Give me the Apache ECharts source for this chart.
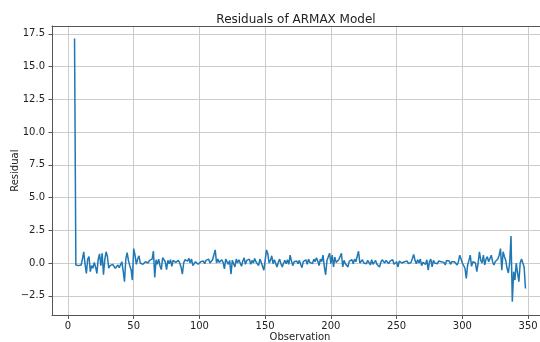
<!DOCTYPE html>
<html>
<head>
<meta charset="utf-8">
<script src="https://cdn.jsdelivr.net/npm/echarts@6/dist/echarts.min.js"></script>
<style>
html,body{margin:0;padding:0;background:#fff;}
#chart{width:540px;height:342px;}
</style>
</head>
<body>
<div id="chart"></div>
<script>
const chartTitle = 'Residuals of ARMAX Model';
const xName = 'Observation';
const yName = 'Residual';
const firstObservation = 5;
const residuals = [
  17.15, -0.15, -0.1, -0.2, -0.05, -0.15, 0.3, 0.86, -0.1, -0.79,
  0.3, 0.5, -0.66, -0.2, -0.4, 0.05, -0.3, -0.8, 0.3, 0.7,
  -0.2, 0.75, -0.9, 0.25, 0.86, 0.5, -0.4, -0.2, -0.35, -0.1,
  -0.25, -0.4, -0.3, -0.15, -0.35, -0.2, 0.1, -0.6, -1.43, 0.3,
  0.8, 0.2, -0.2, -0.5, -1.3, 1.1, 0.6, -0.1, 0.3, 0.55,
  0.0, 0.1, -0.1, 0.05, 0.1, -0.05, 0.0, 0.2, 0.1, 0.3,
  0.9, -1.1, 0.25, -0.1, 0.3, -0.2, -0.5, 0.4, 0.55, 0.1,
  -0.5, 0.2, -0.05, 0.25, -0.25, 0.2, 0.3, 0.05, 0.1, 0.2,
  0.0, -0.3, -0.85, 0.0, 0.25, 0.1, 0.15, 0.35, 0.0, 0.3,
  -0.2, -0.3, 0.1, 0.25, -0.1, 0.05, 0.1, 0.0, 0.15, -0.05,
  0.2, 0.1, 0.3, 0.0, 0.15, 0.25, 0.4, 1.0, 0.0, 0.3,
  0.05, 0.2, 0.25, 0.05, -0.45, 0.3, 0.15, -0.1, 0.2, -0.85,
  0.2, 0.05, -0.3, 0.3, 0.0, 0.25, 0.1, -0.25, 0.15, 0.4,
  -0.1, 0.2, 0.05, 0.3, -0.1, 0.2, 0.0, 0.35, 0.1, 0.25,
  -0.2, 0.3, 0.05, 0.2, -0.55, 0.2, 1.0, 0.7, 0.0, 0.2,
  0.55, -0.05, 0.25, 0.1, -0.3, 0.05, 0.3, -0.05, -0.3, 0.0,
  0.2, -0.05, 0.25, -0.1, 0.6, 0.15, -0.2, 0.1, 0.0, 0.15,
  -0.05, 0.2, -0.1, -0.35, 0.1, -0.05, 0.25, -0.1, 0.3, 0.05,
  0.2, -0.05, 0.3, 0.1, 0.4, 0.15, -0.2, 0.3, 0.1, 0.6,
  -0.3, -0.9, 0.2, 0.3, 0.75, -0.05, 0.6, -0.3, 0.45, 0.05,
  -0.1, 0.25, 0.2, 0.75, -0.3, 0.2, -0.05, 0.1, -0.3, 0.15,
  0.0, 0.25, -0.05, 0.3, 0.1, 0.2, 0.9, 0.0, -0.1, 0.25,
  0.0, 0.15, -0.05, 0.2, 0.05, -0.15, 0.25, -0.1, 0.05, 0.2,
  -0.1, 0.0, -0.3, 0.05, 0.25, 0.1, 0.0, 0.2, 0.05, -0.05,
  0.15, 0.05, 0.25, -0.1, 0.0, 0.1, -0.3, 0.15, 0.05, 0.0,
  -0.1, 0.1, 0.0, 0.15, -0.05, 0.1, 0.05, 0.15, 0.65, 0.2,
  -0.05, 0.25, 0.0, 0.3, -0.2, 0.05, 0.2, -0.1, 0.25, -0.55,
  0.1, 0.3, -0.3, 0.2, 0.0, 0.1, -0.05, 0.15, 0.05, 0.1,
  0.0, 0.05, -0.15, 0.2, 0.05, 0.15, -0.1,
  0.1, 0.0, 0.1, 0.05, -0.15, 0.1, 0.6, 0.3, 0.0, 0.0,
  -0.4, -1.17, -0.15, 0.2, 0.6, -0.25, 0.1, 0.05, 0.0, -0.66,
  0.0, 0.86, 0.2, 0.0, 0.6, -0.15, 0.3, 0.48, 0.1, 0.23,
  0.6, 0.1, -0.15, 0.1, 0.0, 0.3, 0.6, 1.1, -0.54, 0.86,
  0.5, 0.2, -0.4, -0.76, 0.0, 2.06, -2.95, -0.66, -1.3, 0.0,
  -0.76, -1.43, 0.0, 0.3, 0.35, -0.3, -1.94
];
const xTicks = [0, 50, 100, 150, 200, 250, 300, 350];
const yTicks = [-2.5, 0, 2.5, 5, 7.5, 10, 12.5, 15, 17.5];
const xRange = [-12.15, 365.15];
const yRange = [-4.0, 18.1];

const seriesData = residuals.map((v, i) => [firstObservation + i, v]);
const fmtY = v => (v < 0 ? '\u2212' : '') + Math.abs(v).toFixed(1);

const chart = echarts.init(document.getElementById('chart'), null, {renderer: 'canvas'});
const font = 'DejaVu Sans';
const spine = {show: true, onZero: false, lineStyle: {color: '#555', width: 1}};
chart.setOption({
  animation: false,
  backgroundColor: '#ffffff',
  title: {
    text: chartTitle,
    left: 291,
    top: 9,
    textAlign: 'center',
    textStyle: {fontFamily: font, fontSize: 12, fontWeight: 'normal', color: '#222'}
  },
  grid: {
    left: 52, top: 26, width: 496, height: 289.4,
    containLabel: false,
    outerBoundsMode: 'none',
    show: false
  },
  xAxis: [{
    type: 'value',
    position: 'bottom',
    min: xRange[0], max: xRange[1],
    name: xName, nameLocation: 'middle', nameGap: 17, nameMoveOverlap: false,
    nameTextStyle: {fontFamily: font, fontSize: 10, color: '#222'},
    axisLine: spine,
    axisTick: {show: true, length: 3.5, inside: false, customValues: xTicks, lineStyle: {color: '#555'}},
    axisLabel: {customValues: xTicks, margin: 6, fontFamily: font, fontSize: 10, color: '#222'},
    splitLine: {show: true, lineStyle: {color: '#cccccc', width: 1}}
  }, {
    type: 'value',
    position: 'top',
    min: xRange[0], max: xRange[1],
    axisLine: spine,
    axisTick: {show: false},
    axisLabel: {show: false},
    splitLine: {show: false}
  }],
  yAxis: {
    type: 'value',
    min: yRange[0], max: yRange[1],
    name: yName, nameLocation: 'middle', nameGap: 32, nameRotate: 90, nameMoveOverlap: false,
    nameTextStyle: {fontFamily: font, fontSize: 10, color: '#222'},
    axisLine: spine,
    axisTick: {show: true, length: 3.5, inside: false, customValues: yTicks, lineStyle: {color: '#555'}},
    axisLabel: {customValues: yTicks, margin: 7, formatter: fmtY, fontFamily: font, fontSize: 10, color: '#222'},
    splitLine: {show: true, lineStyle: {color: '#cccccc', width: 1}}
  },
  series: [{
    type: 'line',
    xAxisIndex: 0,
    data: seriesData,
    showSymbol: false,
    symbol: 'none',
    lineStyle: {color: '#1f77b4', width: 1.5},
    itemStyle: {color: '#1f77b4'},
    z: 3
  }]
});
</script>
</body>
</html>
